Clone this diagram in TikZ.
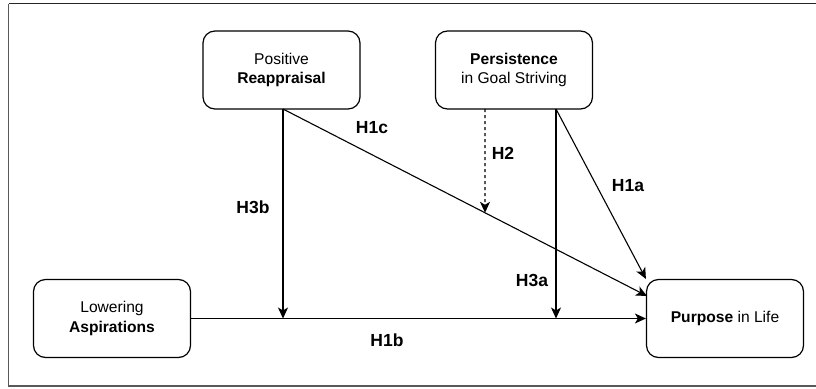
\documentclass[tikz,border=0pt]{standalone}
\usepackage{fontspec}
\setmainfont{Liberation Sans}
\usetikzlibrary{arrows.meta,calc,positioning}

\begin{document}
\begin{tikzpicture}[x=1pt,y=-1pt,
box/.style={draw,line width=1.2pt,rounded corners=12pt,minimum width=157pt,minimum height=78pt,inner sep=0pt,align=center,font=\fontsize{15.6}{19.5}\selectfont},
lbl/.style={inner sep=0pt,font=\fontsize{17.5}{21}\selectfont\bfseries},
arr/.style={line width=1.1pt,-{Stealth[length=11pt,width=10pt,inset=3pt]}}]
\useasboundingbox(0,0)rectangle(816,388);
%frame
\draw[line width=1.7pt,black!85](820,3.5)--(8.5,3.5);
\draw[line width=1.7pt,black!65](8.5,3.5)--(8.5,386)--(820,386);
%boxes
\node[box](pr)at(281.5,70){Positive\\\textbf{Reappraisal}};
\node[box](pgs)at(514,70){\textbf{Persistence}\\in Goal Striving};
\node[box](la)at(112,318.5){Lowering\\\textbf{Aspirations}};
\node[box](pil)at(725,318.5){\textbf{Purpose} in Life};
%anchors
\coordinate(prs)at(283,109);
\coordinate(pgs1)at(485,109);
\coordinate(pgs2)at(556,109);
\coordinate(pilw)at(647,296);
\coordinate(m3b)at(283,318.5);
\coordinate(m3a)at(556,318.5);
\coordinate(m2)at($(prs)!0.555!(pilw)$);
%paths
\draw[arr](la)--(pil);
\draw[arr](prs)--(m3b);
\draw[arr](prs)--(pilw);
\draw[arr,dash pattern=on 3pt off 3pt](pgs1)--(m2);
\draw[arr](pgs2)--(m3a);
\draw[arr](pgs2)--(pil.north west);
%labels
\node[lbl](h1c)at(372,128){H1c};
\node[lbl](h3b)at(253,207){H3b};
\node[lbl](h2)at(503,153){H2};
\node[lbl](h1a)at(628,186){H1a};
\node[lbl](h3a)at(532,280){H3a};
\node[lbl](h1b)at(387,340){H1b};
\end{tikzpicture}
\end{document}
